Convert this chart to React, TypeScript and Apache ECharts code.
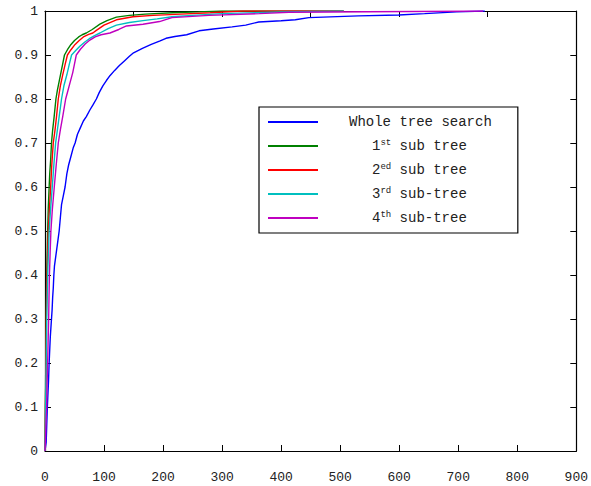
import React, { useEffect, useRef } from "react";
import * as echarts from "echarts";

const seriesNames = ["Whole tree search", "1st sub tree", "2ed sub tree", "3rd sub-tree", "4th sub-tree"];
const seriesColors = ["#0000ff", "#008000", "#ff0000", "#00bfbf", "#bf00bf"];

const xTickStep = 100;
const topTickStep = 150;
const yTickStep = 0.1;

const wholeTree: [number, number][] = [
  [0, 0], [2, 0.02], [3, 0.06], [4, 0.1], [5, 0.13], [6, 0.16], [7, 0.2], [8, 0.23], [9, 0.26],
  [10, 0.28], [11, 0.3], [12, 0.32], [13, 0.35], [14, 0.37], [15, 0.4], [16, 0.42], [18, 0.44],
  [20, 0.46], [22, 0.48], [24, 0.5], [26, 0.53], [28, 0.56], [31, 0.58], [34, 0.6], [37, 0.63],
  [40, 0.65], [44, 0.67], [48, 0.69], [51, 0.7], [55, 0.72], [60, 0.735], [65, 0.75], [70, 0.76],
  [76, 0.775], [81, 0.786], [87, 0.8], [92, 0.815], [98, 0.83], [104, 0.842], [110, 0.853],
  [118, 0.865], [126, 0.876], [134, 0.886], [143, 0.897], [150, 0.905], [165, 0.915], [180, 0.924],
  [195, 0.932], [205, 0.938], [220, 0.942], [240, 0.946], [261, 0.955], [285, 0.959], [317, 0.964],
  [340, 0.968], [362, 0.975], [400, 0.978], [424, 0.98], [447, 0.985], [531, 0.989], [599, 0.991],
  [643, 0.994], [697, 0.998], [745, 1.0],
];

const subTree1: [number, number][] = [
  [0, 0], [0.3, 0.05], [0.6, 0.1], [1, 0.15], [1.3, 0.2], [1.7, 0.25], [2, 0.3], [2.5, 0.35],
  [3, 0.4], [3.7, 0.45], [4.5, 0.5], [5.5, 0.55], [7, 0.6], [8, 0.63], [9.5, 0.66], [11, 0.7],
  [13, 0.73], [15.5, 0.76], [18.5, 0.8], [21, 0.82], [24, 0.84], [27, 0.86], [30, 0.88], [33, 0.9],
  [38, 0.912], [44, 0.924], [50, 0.933], [57, 0.941], [63, 0.946], [70, 0.95], [80, 0.958],
  [93, 0.97], [105, 0.978], [121, 0.986], [143, 0.99], [170, 0.993], [216, 0.996], [260, 0.998],
  [300, 1.0], [506, 1.0],
];

const subTree2: [number, number][] = [
  [0, 0], [0.5, 0.05], [0.8, 0.1], [1.2, 0.15], [1.5, 0.2], [1.9, 0.25], [2.2, 0.3], [2.8, 0.35],
  [3.5, 0.4], [4.5, 0.45], [5.6, 0.5], [7.5, 0.55], [9.6, 0.6], [11.5, 0.65], [14, 0.7], [17, 0.73],
  [19.5, 0.76], [22.5, 0.8], [26, 0.83], [30, 0.855], [34, 0.878], [38, 0.9], [44, 0.912],
  [51, 0.924], [58, 0.933], [66, 0.942], [74, 0.947], [81, 0.95], [87, 0.956], [100, 0.968],
  [121, 0.98], [149, 0.987], [183, 0.99], [230, 0.993], [280, 0.996], [334, 1.0], [506, 1.0],
];

const subTree3: [number, number][] = [
  [0, 0], [0.6, 0.05], [1, 0.1], [1.5, 0.15], [2, 0.2], [2.5, 0.25], [3, 0.3], [3.7, 0.35],
  [4.5, 0.4], [5.7, 0.45], [7, 0.5], [9.5, 0.55], [12.3, 0.6], [15, 0.65], [18, 0.7], [21, 0.73],
  [24, 0.76], [28, 0.8], [32, 0.83], [37, 0.855], [41, 0.878], [45, 0.9], [52, 0.91], [59, 0.92],
  [67, 0.929], [75, 0.937], [84, 0.944], [93, 0.95], [107, 0.96], [121, 0.968], [143, 0.974],
  [166, 0.978], [190, 0.982], [215, 0.987], [250, 0.99], [300, 0.994], [400, 0.998], [506, 1.0],
];

const subTree4: [number, number][] = [
  [0, 0], [1, 0.03], [1.8, 0.07], [2.8, 0.1], [3.5, 0.15], [4.5, 0.2], [5.3, 0.25], [6.2, 0.3],
  [6.8, 0.35], [7.5, 0.4], [8.7, 0.45], [10, 0.5], [12.5, 0.55], [15.7, 0.6], [19, 0.65],
  [22.5, 0.7], [26, 0.73], [30, 0.76], [35, 0.8], [39, 0.82], [43, 0.84], [47, 0.86], [50, 0.88],
  [53, 0.9], [60, 0.913], [68, 0.925], [76, 0.934], [85, 0.941], [95, 0.946], [110, 0.95],
  [125, 0.958], [138, 0.966], [166, 0.97], [194, 0.976], [215, 0.985], [278, 0.99], [363, 0.994],
  [413, 0.997], [742, 1.0],
];

const seriesData = [wholeTree, subTree1, subTree2, subTree3, subTree4];

const legendLabels: Record<string, string> = {
  "Whole tree search": "{gapA| }{t|Whole tree search}",
  "1st sub tree": "{gapB| }{t|1}{s|st}{t| sub tree}",
  "2ed sub tree": "{gapB| }{t|2}{s|ed}{t| sub tree}",
  "3rd sub-tree": "{gapB| }{t|3}{s|rd}{t| sub-tree}",
  "4th sub-tree": "{gapB| }{t|4}{s|th}{t| sub-tree}",
};

const MONO = "'Liberation Mono', 'DejaVu Sans Mono', monospace";
const TEXT = "#222222";

export default function App() {
  const ref = useRef<HTMLDivElement>(null);

  useEffect(() => {
    if (!ref.current) return;
    const chart = echarts.init(ref.current, undefined, { renderer: "svg" });
    const axisLine = { show: true, onZero: false, lineStyle: { color: "#000", width: 1.2 } };
    const axisTick = { show: true, inside: true, length: 6, lineStyle: { color: "#000", width: 1 } };
    chart.setOption({
      animation: false,
      backgroundColor: "#fff",
      grid: { left: 45, right: 12, top: 11, bottom: 35, containLabel: false },
      xAxis: [
        {
          type: "value", position: "bottom", min: 0, max: 900, interval: xTickStep,
          axisLine, axisTick, splitLine: { show: false },
          axisLabel: { margin: 20, fontSize: 13, fontFamily: MONO, color: TEXT },
        },
        {
          type: "value", position: "top", min: 0, max: 900, interval: topTickStep,
          axisLine, axisTick, splitLine: { show: false }, axisLabel: { show: false },
        },
      ],
      yAxis: [
        {
          type: "value", position: "left", min: 0, max: 1, interval: yTickStep,
          axisLine, axisTick, splitLine: { show: false },
          axisLabel: { margin: 7, fontSize: 13, fontFamily: MONO, color: TEXT },
        },
        {
          type: "value", position: "right", min: 0, max: 1, interval: yTickStep,
          axisLine, axisTick, splitLine: { show: false }, axisLabel: { show: false },
        },
      ],
      legend: {
        orient: "vertical",
        left: 259,
        top: 107,
        padding: [8, 26, 8, 9],
        icon: "rect",
        itemWidth: 50,
        itemHeight: 2,
        itemGap: 9,
        borderColor: "#000",
        borderWidth: 1.2,
        borderRadius: 0,
        backgroundColor: "#fff",
        selectedMode: false,
        data: seriesNames,
        formatter: (name: string) => legendLabels[name] ?? name,
        textStyle: {
          fontFamily: MONO,
          fontSize: 14,
          color: TEXT,
          rich: {
            gapA: { width: 26 },
            gapB: { width: 49 },
            t: { fontFamily: MONO, fontSize: 14, color: TEXT, lineHeight: 16 },
            s: { fontFamily: MONO, fontSize: 9, color: TEXT, verticalAlign: "top", lineHeight: 9 },
          },
        },
      },
      series: seriesNames.map((name, i) => ({
        name,
        type: "line",
        xAxisIndex: 0,
        yAxisIndex: 0,
        data: seriesData[i],
        symbol: "none",
        color: seriesColors[i],
        lineStyle: { color: seriesColors[i], width: 1.4 },
        emphasis: { disabled: true },
      })),
    });
    return () => chart.dispose();
  }, []);

  return (
    <div
      ref={ref}
      style={{ position: "absolute", left: 0, top: 0, width: 591, height: 486, background: "#fff" }}
    />
  );
}
